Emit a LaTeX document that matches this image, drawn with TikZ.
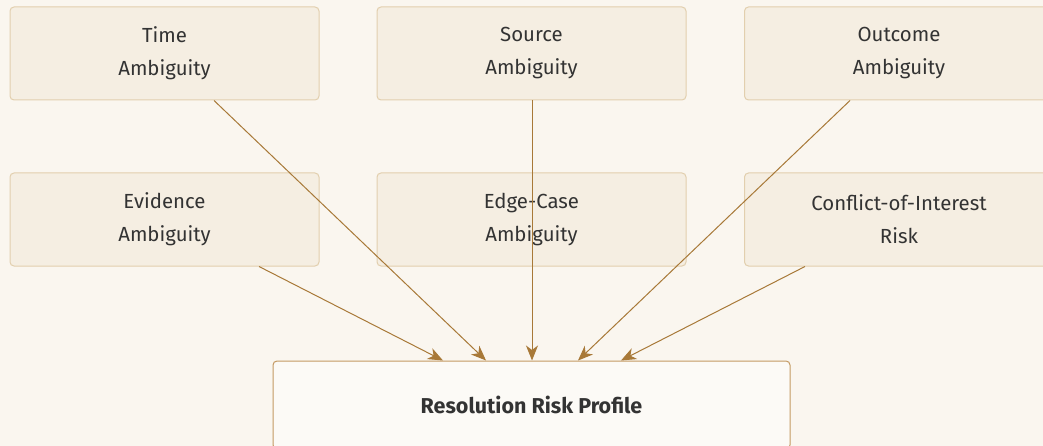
\documentclass[tikz,border=0pt]{standalone}
\usepackage{fontspec}
\setmainfont{Fira Sans}
\usetikzlibrary{arrows.meta,calc}
\definecolor{bg}{HTML}{FAF6EF}
\definecolor{boxfill}{HTML}{F5EEE2}
\definecolor{boxline}{HTML}{E2CFAE}
\definecolor{resfill}{HTML}{FCFAF6}
\definecolor{resline}{HTML}{C49A63}
\definecolor{arrowc}{HTML}{A87938}
\definecolor{txt}{HTML}{333333}
\tikzset{
  catbox/.style={draw=boxline, fill=boxfill, line width=1pt, rounded corners=4pt,
    minimum width=309pt, minimum height=93pt, align=center, text=txt,
    font=\fontsize{20.4}{33}\selectfont, inner sep=0pt},
  resbox/.style={draw=resline, fill=resfill, line width=1pt, rounded corners=4pt,
    minimum width=517pt, minimum height=88pt, align=center, text=txt,
    font=\fontsize{21.5}{33}\selectfont\bfseries, inner sep=0pt},
  arr/.style={draw=arrowc, line width=1pt, -{Stealth[length=15pt,width=12pt,inset=4.5pt]}}
}
\begin{document}
\begin{tikzpicture}[x=1pt,y=-1pt]
\fill[bg] (0,0) rectangle (1043,446);
\useasboundingbox (0,0) rectangle (1043,446);
\node[catbox] (time) at (164.5,53.5) {Time\\Ambiguity};
\node[catbox] (source) at (531.5,53.5) {Source\\Ambiguity};
\node[catbox] (outcome) at (899,53.5) {Outcome\\Ambiguity};
\node[catbox] (evidence) at (164.5,219.5) {Evidence\\Ambiguity};
\node[catbox] (edge) at (531.5,219.5) {Edge-Case\\Ambiguity};
\node[catbox] (conflict) at (899,219.5) {Conflict-of-Interest\\Risk};
\node[resbox] (res) at (531.5,405) {Resolution Risk Profile};
\draw[arr] ([xshift=49.5pt]time.south) -- ([xshift=-45.5pt]res.north);
\draw[arr] ([xshift=0.5pt]source.south) -- ([xshift=0.5pt]res.north);
\draw[arr] ([xshift=-49pt]outcome.south) -- ([xshift=46.5pt]res.north);
\draw[arr] ([xshift=94.5pt]evidence.south) -- ([xshift=-88.5pt]res.north);
\draw[arr] ([xshift=-94pt]conflict.south) -- ([xshift=89.5pt]res.north);
\end{tikzpicture}
\end{document}
